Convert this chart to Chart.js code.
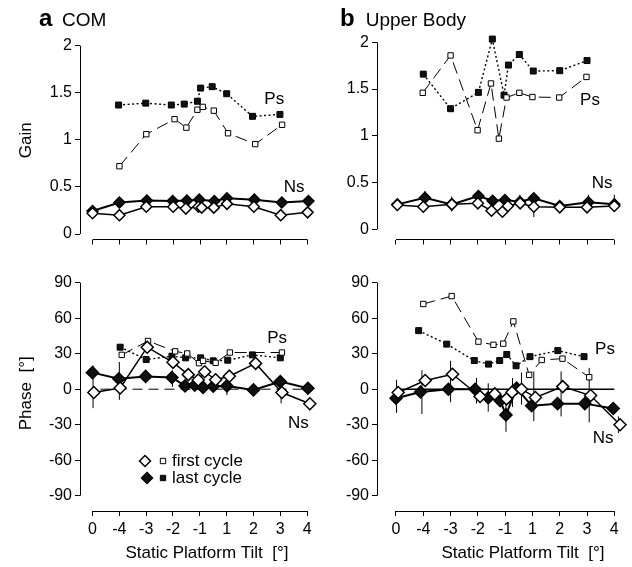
<!DOCTYPE html>
<html>
<head>
<meta charset="utf-8">
<script src="https://cdn.jsdelivr.net/npm/chart.js@4.4.1/dist/chart.umd.min.js"></script>
<style>
  body { margin: 0; background: #fff; }
  #wrap { position: relative; width: 632px; height: 567px; overflow: hidden; }
  canvas { position: absolute; }
</style>
</head>
<body>
<div id="wrap">
  <canvas id="comGain" width="320" height="262" style="left:0;top:0"></canvas>
  <canvas id="upperGain" width="312" height="262" style="left:320px;top:0"></canvas>
  <canvas id="comPhase" width="320" height="305" style="left:0;top:262px"></canvas>
  <canvas id="upperPhase" width="312" height="305" style="left:320px;top:262px"></canvas>
</div>
<script>
// tilt axis: evenly spaced slots, labelled 0, -4 ... -1, 1 ... 4
const tiltLabels = ['0', '-4', '-3', '-2', '-1', '1', '2', '3', '4'];
const tiltSlots = [0, 1, 2, 3, 4, 5, 6, 7, 8];
const gainTicks = [0, 0.5, 1, 1.5, 2];
const phaseTicks = [-90, -60, -30, 0, 30, 60, 90];

// --- a COM, gain ---
const comGainPsFirstX = [1.0, 2.0, 3.05, 3.49, 3.9, 4.1, 4.51, 5.04, 6.05, 7.05];
const comGainPsFirst  = [0.72, 1.06, 1.22, 1.13, 1.32, 1.35, 1.31, 1.07, 0.955, 1.16];
const comGainPsLastX  = [0.97, 1.98, 2.93, 3.41, 3.9, 4.02, 4.45, 4.99, 5.95, 6.97];
const comGainPsLast   = [1.37, 1.39, 1.37, 1.38, 1.41, 1.55, 1.565, 1.49, 1.25, 1.27];
const comGainNsFirstX = [0, 1, 2, 3, 3.47, 3.94, 4.06, 4.51, 5, 6, 7, 8];
const comGainNsFirst  = [0.22, 0.20, 0.29, 0.29, 0.27, 0.29, 0.28, 0.28, 0.32, 0.29, 0.20, 0.23];
const comGainNsLastX  = [0, 1, 2.02, 2.98, 3.51, 3.97, 4.53, 5, 6.02, 7.04, 8.03];
const comGainNsLast   = [0.245, 0.335, 0.355, 0.35, 0.355, 0.365, 0.35, 0.38, 0.365, 0.335, 0.35];
const comGainErrX  = [0, 2.02, 4.53, 5];
const comGainErrLo = [0.18, 0.32, 0.31, 0.33];
const comGainErrHi = [0.29, 0.40, 0.41, 0.42];

// --- b Upper Body, gain ---
const upGainPsFirstX = [0.98, 2.0, 2.99, 3.48, 3.77, 4.05, 4.52, 5.0, 5.98, 6.98];
const upGainPsFirst  = [1.46, 1.86, 1.06, 1.56, 0.97, 1.41, 1.46, 1.415, 1.41, 1.63];
const upGainPsLastX  = [1.0, 2.0, 3.02, 3.53, 3.96, 4.12, 4.52, 5.03, 6.0, 7.0];
const upGainPsLast   = [1.66, 1.29, 1.465, 2.035, 1.435, 1.757, 1.87, 1.693, 1.697, 1.805];
const upGainNsFirstX = [0.05, 1.0, 2.05, 3.0, 3.5, 3.9, 4.1, 4.55, 5.05, 6.0, 7.0, 8.0];
const upGainNsFirst  = [0.26, 0.242, 0.267, 0.278, 0.199, 0.188, 0.249, 0.278, 0.242, 0.235, 0.235, 0.249];
const upGainNsLastX  = [0.05, 1.06, 2.04, 3.02, 3.54, 3.99, 4.54, 5.05, 6.0, 7.05, 8.0];
const upGainNsLast   = [0.267, 0.338, 0.267, 0.356, 0.306, 0.313, 0.295, 0.331, 0.249, 0.289, 0.267];
const upGainErrX  = [1.06, 2.04, 3.02, 3.9, 4.54, 5.05, 7.05, 8.0];
const upGainErrLo = [0.25, 0.19, 0.27, 0.14, 0.22, 0.13, 0.20, 0.19];
const upGainErrHi = [0.41, 0.35, 0.40, 0.24, 0.37, 0.30, 0.37, 0.37];

// --- a COM, phase ---
const comPhasePsFirstX = [1.09, 2.07, 3.08, 3.53, 3.97, 4.12, 4.59, 5.12, 7.06];
const comPhasePsFirst  = [29, 40.7, 32, 30.2, 22, 24, 22.3, 31, 31];
const comPhasePsLastX  = [1.03, 2.0, 2.96, 3.47, 4.03, 4.5, 5.04, 5.96, 7.0];
const comPhasePsLast   = [35.5, 25.1, 27.9, 26.5, 26.5, 24, 24.5, 29, 26.5];
const comPhaseNsFirstX = [0.05, 1.03, 2.04, 3.0, 3.57, 3.94, 4.18, 4.59, 5.1, 6.08, 7.06, 8.1];
const comPhaseNsFirst  = [-2.8, 1, 35.5, 22.7, 12.3, 7.7, 14.8, 8, 11, 21.8, -2.8, -12.3];
const comPhaseNsLastX  = [0, 0.98, 1.98, 2.96, 3.45, 3.81, 4.12, 4.5, 5.01, 6.0, 7.0, 8.03];
const comPhaseNsLast   = [14, 8.8, 10.8, 9.9, 2.8, 3.4, 1.5, 2.5, 2.8, -0.6, 6.4, 0.8];
const comPhaseErrX  = [0.02, 1.0, 1.98, 2.98, 5.01, 7.03, 8.06];
const comPhaseErrLo = [-16, -9, 5, 2, -5, -12, -17];
const comPhaseErrHi = [20, 23, 15, 16, 6, 4, -8];

// --- b Upper Body, phase ---
const upPhasePsFirstX = [1.0, 2.04, 3.02, 3.57, 3.93, 4.3, 4.88, 5.34, 6.1, 7.08];
const upPhasePsFirst  = [72, 78.7, 40.2, 37.5, 38.5, 57.3, 12.1, 24.7, 25.8, 10.1];
const upPhasePsLastX  = [0.83, 1.86, 2.87, 3.39, 3.8, 4.06, 4.4, 4.91, 5.93, 6.89];
const upPhasePsLast   = [49.5, 38.1, 24.2, 21.2, 24.2, 29.4, 19.8, 27.5, 32.6, 27.5];
const upPhaseNsFirstX = [0.08, 1.07, 2.07, 3.08, 3.62, 4.05, 4.25, 4.6, 5.11, 6.11, 7.13, 8.21];
const upPhaseNsFirst  = [-2.8, 7.3, 12.6, -6.2, -4, -8.2, -2.5, 0, -7, 2.2, -5.4, -30];
const upPhaseNsLastX  = [0, 0.9, 1.92, 2.9, 3.38, 3.82, 4.03, 4.42, 4.97, 5.92, 6.92, 7.96];
const upPhaseNsLast   = [-7.6, -2.4, 0, 0, -7.2, -9.7, -21.7, 0.9, -14, -12.2, -12.2, -16.3];
const upPhaseErrX  = [0.02, 0.95, 2.0, 2.95, 3.38, 4.03, 4.27, 4.6, 5.05, 6.05, 7.08, 8.15];
const upPhaseErrLo = [-20, -21, -11, -12, -19, -36, -15, -13, -27, -23, -28, -37];
const upPhaseErrHi = [8, 16, 24, 9.5, 5, -12, 9.5, 14, 15, 15, 18, -23];

const zeroLineX = [0, 8];
const comZeroLineX = [0.3, 8.05];

const FONT = '"Liberation Sans", Arial, sans-serif';
const BLACK = '#000';

function pts(xs, ys) {
    return xs.map((x, i) => ({ x: x, y: ys[i] }));
}

// vertical error segments, broken apart by null points
function errSegments(xs, lo, hi) {
    const out = [];
    xs.forEach((x, i) => {
        out.push({ x: x, y: lo[i] }, { x: x, y: hi[i] }, { x: x, y: null });
    });
    return out;
}

function nsSet(data, filled, r) {
    return {
        data: data,
        borderColor: BLACK,
        borderWidth: filled ? 2 : 1.5,
        pointStyle: 'rectRot',
        pointRadius: r,
        pointBorderWidth: 1.5,
        pointBorderColor: BLACK,
        pointBackgroundColor: filled ? '#111' : '#fff',
        tension: 0,
        clip: false
    };
}

function psSet(data, filled) {
    return {
        data: data,
        borderColor: BLACK,
        borderWidth: filled ? 1.4 : 1,
        borderDash: filled ? [2, 2.5] : [12, 6],
        pointStyle: 'rect',
        pointRadius: filled ? 4.2 : 3.8,
        pointBorderWidth: 1,
        pointBorderColor: BLACK,
        pointBackgroundColor: filled ? '#111' : '#fff',
        tension: 0,
        clip: false
    };
}

function errSet(data) {
    return {
        data: data,
        borderColor: BLACK,
        borderWidth: 1,
        pointRadius: 0,
        spanGaps: false,
        clip: false
    };
}

function align(px) {
    return Math.round(px - 0.5) + 0.5;
}

// R style axes: lines only from first to last tick
const detachedAxes = {
    id: 'detachedAxes',
    afterDraw(chart) {
        const ctx = chart.ctx;
        const xs = chart.scales.x, ys = chart.scales.y;
        const area = chart.chartArea;
        ctx.save();
        ctx.strokeStyle = BLACK;
        ctx.lineWidth = 1;
        ctx.beginPath();
        const ax = align(area.left);
        ctx.moveTo(ax, ys.getPixelForValue(ys.ticks[0].value));
        ctx.lineTo(ax, ys.getPixelForValue(ys.ticks[ys.ticks.length - 1].value));
        const ay = align(area.bottom);
        ctx.moveTo(xs.getPixelForValue(xs.ticks[0].value), ay);
        ctx.lineTo(xs.getPixelForValue(xs.ticks[xs.ticks.length - 1].value), ay);
        ctx.stroke();
        ctx.restore();
    }
};

const panelText = {
    id: 'panelText',
    afterDraw(chart, args, opts) {
        const ctx = chart.ctx;
        ctx.save();
        ctx.fillStyle = BLACK;
        (opts.items || []).forEach(t => {
            let x = t.x, y = t.y;
            if (t.data) {
                x = chart.scales.x.getPixelForValue(t.x);
                y = chart.scales.y.getPixelForValue(t.y);
            }
            ctx.font = t.font || ('17px ' + FONT);
            ctx.textAlign = t.align || 'center';
            ctx.textBaseline = t.baseline || 'middle';
            ctx.fillText(t.text, x, y);
        });
        (opts.legend || []).forEach(row => {
            ctx.strokeStyle = BLACK;
            ctx.lineWidth = 1.5;
            ctx.fillStyle = row.filled ? '#111' : '#fff';
            Chart.helpers.drawPoint(ctx, { pointStyle: 'rectRot', radius: 5.5, borderWidth: 1.5, rotation: 0 }, row.dx, row.y);
            ctx.lineWidth = 1;
            Chart.helpers.drawPoint(ctx, { pointStyle: 'rect', radius: 3.8, borderWidth: 1, rotation: 0 }, row.sx, row.y);
            ctx.fillStyle = BLACK;
            ctx.font = '17px ' + FONT;
            ctx.textAlign = 'left';
            ctx.textBaseline = 'middle';
            ctx.fillText(row.text, row.tx, row.y);
        });
        ctx.restore();
    }
};

function makePanel(id, p) {
    const canvas = document.getElementById(id);
    if (!canvas) return;
    new Chart(canvas, {
        type: 'line',
        data: { datasets: p.datasets },
        options: {
            responsive: false,
            animation: false,
            layout: { padding: p.padding },
            plugins: {
                legend: { display: false },
                tooltip: { enabled: false },
                panelText: { items: p.texts, legend: p.legend }
            },
            scales: {
                x: {
                    type: 'linear',
                    min: p.xMin,
                    max: p.xMax,
                    afterBuildTicks: s => { s.ticks = tiltSlots.map(v => ({ value: v })); },
                    afterFit: s => { s.height = p.xHeight; s.paddingLeft = 0; s.paddingRight = 0; },
                    ticks: {
                        display: p.xLabels,
                        autoSkip: false,
                        maxRotation: 0,
                        padding: 4,
                        color: BLACK,
                        font: { family: FONT, size: 16 },
                        callback: v => tiltLabels[tiltSlots.indexOf(v)]
                    },
                    grid: { drawOnChartArea: false, drawTicks: true, tickLength: 5, color: BLACK },
                    border: { display: false }
                },
                y: {
                    type: 'linear',
                    min: p.yMin,
                    max: p.yMax,
                    afterBuildTicks: s => { s.ticks = p.yTicks.map(v => ({ value: v })); },
                    afterFit: s => { s.width = p.yWidth; s.paddingTop = 0; s.paddingBottom = 0; },
                    ticks: {
                        padding: 3,
                        color: BLACK,
                        font: { family: FONT, size: 16 },
                        callback: v => String(v)
                    },
                    grid: { drawOnChartArea: false, drawTicks: true, tickLength: 5, color: BLACK },
                    border: { display: false },
                    title: {
                        display: !!p.yTitle,
                        text: p.yTitle || '',
                        color: BLACK,
                        font: { family: FONT, size: 17 },
                        padding: { top: 16, bottom: 0 }
                    }
                }
            }
        },
        plugins: [detachedAxes, panelText]
    });
}

document.addEventListener('DOMContentLoaded', function() {
    makePanel('comGain', {
        padding: { left: 0, right: 3.8, top: 41, bottom: 12.5 },
        xMin: -0.466, xMax: 8.2, xHeight: 10, xLabels: false,
        yMin: -0.0584, yMax: 2.05, yWidth: 80, yTicks: gainTicks, yTitle: 'Gain',
        datasets: [
            nsSet(pts(comGainNsFirstX, comGainNsFirst), false, 5.5),
            nsSet(pts(comGainNsLastX, comGainNsLast), true, 5.5),
            psSet(pts(comGainPsFirstX, comGainPsFirst), false),
            psSet(pts(comGainPsLastX, comGainPsLast), true),
            errSet(errSegments(comGainErrX, comGainErrLo, comGainErrHi))
        ],
        texts: [
            { text: 'a', x: 39, y: 26, align: 'left', baseline: 'alphabetic', font: 'bold 24px ' + FONT },
            { text: 'COM', x: 62, y: 26, align: 'left', baseline: 'alphabetic', font: '19px ' + FONT },
            { text: 'Ps', x: 6.76, y: 1.434, data: true },
            { text: 'Ns', x: 7.5, y: 0.5, data: true }
        ]
    });

    makePanel('upperGain', {
        padding: { left: 0, right: 9.5, top: 33, bottom: 12.5 },
        xMin: -0.696, xMax: 8.3, xHeight: 10, xLabels: false,
        yMin: -0.109, yMax: 2.1, yWidth: 57, yTicks: gainTicks,
        datasets: [
            nsSet(pts(upGainNsFirstX, upGainNsFirst), false, 5.5),
            nsSet(pts(upGainNsLastX, upGainNsLast), true, 5.5),
            psSet(pts(upGainPsFirstX, upGainPsFirst), false),
            psSet(pts(upGainPsLastX, upGainPsLast), true),
            errSet(errSegments(upGainErrX, upGainErrLo, upGainErrHi))
        ],
        texts: [
            { text: 'b', x: 20, y: 26, align: 'left', baseline: 'alphabetic', font: 'bold 24px ' + FONT },
            { text: 'Upper Body', x: 45.7, y: 26, align: 'left', baseline: 'alphabetic', font: '19px ' + FONT },
            { text: 'Ps', x: 7.11, y: 1.383, data: true },
            { text: 'Ns', x: 7.55, y: 0.497, data: true }
        ]
    });

    makePanel('comPhase', {
        padding: { left: 0, right: 3.8, top: 13.6, bottom: 0 },
        xMin: -0.466, xMax: 8.2, xHeight: 56, xLabels: true,
        yMin: -102.93, yMax: 96, yWidth: 80, yTicks: phaseTicks, yTitle: 'Phase  [°]',
        datasets: [
            nsSet(pts(comPhaseNsFirstX, comPhaseNsFirst), false, 6),
            nsSet(pts(comPhaseNsLastX, comPhaseNsLast), true, 6),
            psSet(pts(comPhasePsFirstX, comPhasePsFirst), false),
            psSet(pts(comPhasePsLastX, comPhasePsLast), true),
            { data: pts(comZeroLineX, [0, 0]), borderColor: BLACK, borderWidth: 1, borderDash: [10, 6], pointRadius: 0 },
            errSet(errSegments(comPhaseErrX, comPhaseErrLo, comPhaseErrHi))
        ],
        texts: [
            { text: 'Ps', x: 6.88, y: 43.3, data: true },
            { text: 'Ns', x: 7.67, y: -28.6, data: true },
            { text: 'Static Platform Tilt  [°]', x: 207, y: 291 }
        ],
        legend: [
            { filled: false, dx: 145, sx: 163, tx: 172, y: 199, text: 'first cycle' },
            { filled: true, dx: 147, sx: 163, tx: 172, y: 216, text: 'last cycle' }
        ]
    });

    makePanel('upperPhase', {
        padding: { left: 0, right: 9.5, top: 13.6, bottom: 0 },
        xMin: -0.696, xMax: 8.3, xHeight: 56, xLabels: true,
        yMin: -102.93, yMax: 96, yWidth: 57, yTicks: phaseTicks,
        datasets: [
            nsSet(pts(upPhaseNsFirstX, upPhaseNsFirst), false, 6),
            nsSet(pts(upPhaseNsLastX, upPhaseNsLast), true, 6),
            psSet(pts(upPhasePsFirstX, upPhasePsFirst), false),
            psSet(pts(upPhasePsLastX, upPhasePsLast), true),
            { data: pts(zeroLineX, [0, 0]), borderColor: BLACK, borderWidth: 1.5, pointRadius: 0 },
            errSet(errSegments(upPhaseErrX, upPhaseErrLo, upPhaseErrHi))
        ],
        texts: [
            { text: 'Ps', x: 7.66, y: 34, data: true },
            { text: 'Ns', x: 7.59, y: -41.2, data: true },
            { text: 'Static Platform Tilt  [°]', x: 203, y: 291 }
        ]
    });
});
</script>
</body>
</html>
